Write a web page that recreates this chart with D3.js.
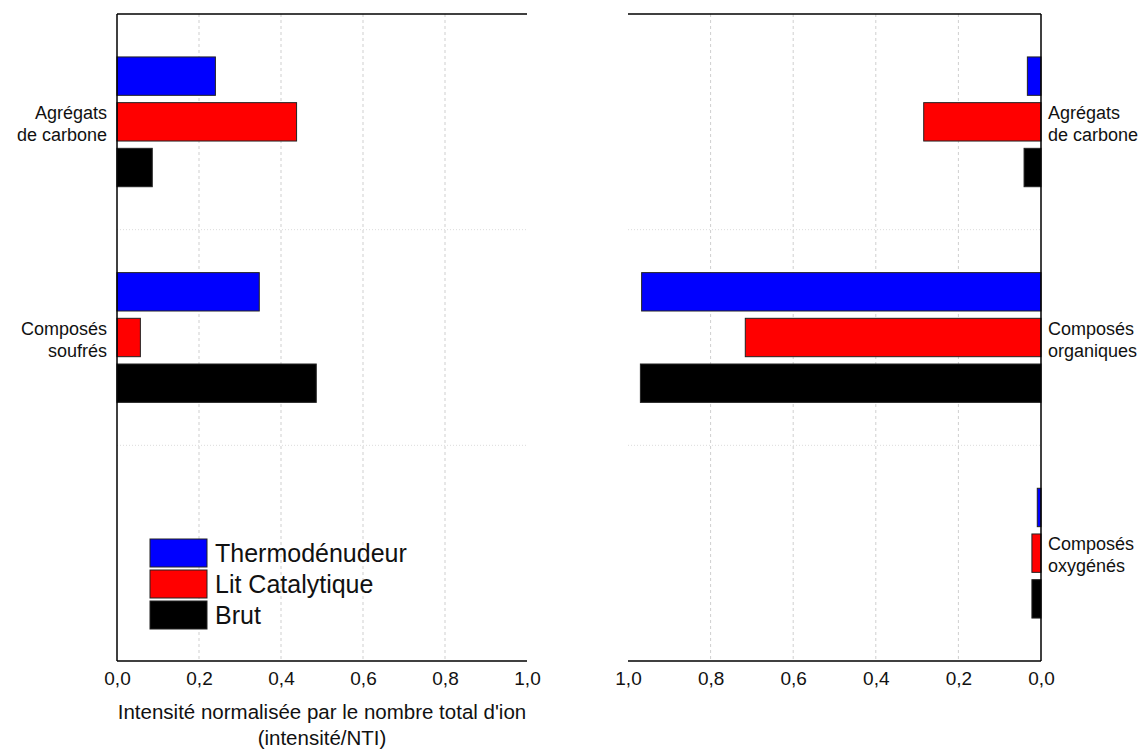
<!DOCTYPE html>
<html>
<head>
<meta charset="utf-8">
<script src="https://cdn.jsdelivr.net/npm/d3@7/dist/d3.min.js"></script>
<style>
  html, body { margin: 0; padding: 0; background: #fff; }
  svg { display: block; font-family: "Liberation Sans", Arial, sans-serif; }
</style>
</head>
<body>
<svg id="chart" width="1148" height="751"></svg>
<script>
// ---- Data ----
const series = ["Thermodénudeur", "Lit Catalytique", "Brut"];
const seriesColors = ["#0000ff", "#ff0000", "#000000"];

const leftCategories = [["Agrégats", "de carbone"], ["Composés", "soufrés"], []];
const leftThermo = [0.24, 0.347, null];
const leftLit = [0.438, 0.057, null];
const leftBrut = [0.086, 0.486, null];

const rightCategories = [["Agrégats", "de carbone"], ["Composés", "organiques"], ["Composés", "oxygénés"]];
const rightThermo = [0.033, 0.967, 0.009];
const rightLit = [0.284, 0.716, 0.022];
const rightBrut = [0.041, 0.970, 0.022];

const tickValues = [0, 0.2, 0.4, 0.6, 0.8, 1.0];
const axisTitle = ["Intensité normalisée par le nombre total d'ion", "(intensité/NTI)"];

// ---- Layout ----
const svg = d3.select("#chart");
const plotTop = 14, plotBottom = 661;
const fmt = v => d3.format(".1f")(v).replace(".", ",");

function panel(opts) {
  const { x0, x1, reversed, cats, vals } = opts;
  const x = d3.scaleLinear().domain([0, 1]).range(reversed ? [x1, x0] : [x0, x1]);
  const y0 = d3.scaleBand().domain(d3.range(cats.length)).range([plotTop, plotBottom]);
  const y1 = d3.scaleBand().domain(series).range([0, y0.bandwidth()])
    .paddingInner(0.16).paddingOuter(0.94);
  const g = svg.append("g");

  // vertical dashed grid
  g.append("g").selectAll("line").data(tickValues.filter(t => t > 0 && t < 1)).join("line")
    .attr("x1", d => x(d)).attr("x2", d => x(d))
    .attr("y1", plotTop).attr("y2", plotBottom)
    .attr("stroke", "#cfcfcf").attr("stroke-width", 1).attr("stroke-dasharray", "3,3");

  // horizontal dotted grid between categories
  g.append("g").selectAll("line").data(d3.range(1, cats.length)).join("line")
    .attr("x1", x0).attr("x2", x1)
    .attr("y1", d => y0(d)).attr("y2", d => y0(d))
    .attr("stroke", "#dcdcdc").attr("stroke-width", 1).attr("stroke-dasharray", "1,2");

  // bars
  series.forEach((s, si) => {
    const data = vals[si].map((v, ci) => ({ v, ci })).filter(d => d.v != null);
    g.append("g").selectAll("rect").data(data).join("rect")
      .attr("x", d => reversed ? x(d.v) : x(0))
      .attr("width", d => Math.abs(x(d.v) - x(0)))
      .attr("y", d => y0(d.ci) + y1(s))
      .attr("height", y1.bandwidth())
      .attr("fill", seriesColors[si])
      .attr("stroke", "#222").attr("stroke-width", 1);
  });

  // frame lines
  const axisX = reversed ? x1 : x0;
  g.append("line").attr("x1", x0).attr("x2", x1).attr("y1", plotTop).attr("y2", plotTop)
    .attr("stroke", "#000").attr("stroke-width", 1.5);
  g.append("line").attr("x1", axisX).attr("x2", axisX).attr("y1", plotTop).attr("y2", plotBottom)
    .attr("stroke", "#000").attr("stroke-width", 1.5);

  // bottom axis
  const ax = g.append("g").attr("transform", `translate(0,${plotBottom})`)
    .call(d3.axisBottom(x).tickValues(tickValues).tickFormat(fmt).tickSize(0).tickPadding(11));
  ax.select(".domain").attr("stroke", "#000").attr("stroke-width", 1.5).attr("d", `M${x0},0H${x1}`);
  ax.attr("font-size", 19);
  ax.selectAll("text").attr("font-size", 19).attr("fill", "#111")
    .attr("font-family", "Liberation Sans, Arial, sans-serif");

  // category labels
  cats.forEach((lines, ci) => {
    if (!lines.length) return;
    const cy = y0(ci) + y0.bandwidth() / 2;
    const t = g.append("text")
      .attr("x", reversed ? x1 + 7 : x0 - 10)
      .attr("y", cy - 3)
      .attr("text-anchor", reversed ? "start" : "end")
      .attr("font-size", 18).attr("fill", "#111");
    lines.forEach((ln, li) => {
      t.append("tspan").attr("x", reversed ? x1 + 7 : x0 - 10)
        .attr("dy", li === 0 ? 0 : 22).text(ln);
    });
  });
  return x;
}

panel({ x0: 117, x1: 527, reversed: false, cats: leftCategories, vals: [leftThermo, leftLit, leftBrut] });
panel({ x0: 628, x1: 1041, reversed: true, cats: rightCategories, vals: [rightThermo, rightLit, rightBrut] });

// axis title
const title = svg.append("text").attr("x", 322).attr("y", 719)
  .attr("text-anchor", "middle").attr("font-size", 20.5).attr("fill", "#111");
axisTitle.forEach((ln, i) => title.append("tspan").attr("x", 322).attr("dy", i === 0 ? 0 : 26).text(ln));

// legend
const leg = svg.append("g").attr("transform", "translate(150,539)");
series.forEach((s, i) => {
  const row = leg.append("g").attr("transform", `translate(0,${i * 31})`);
  row.append("rect").attr("width", 57).attr("height", 28)
    .attr("fill", seriesColors[i]).attr("stroke", "#222").attr("stroke-width", 1);
  row.append("text").attr("x", 65).attr("y", 23).attr("font-size", 25).attr("fill", "#111").text(s);
});
</script>
</body>
</html>
